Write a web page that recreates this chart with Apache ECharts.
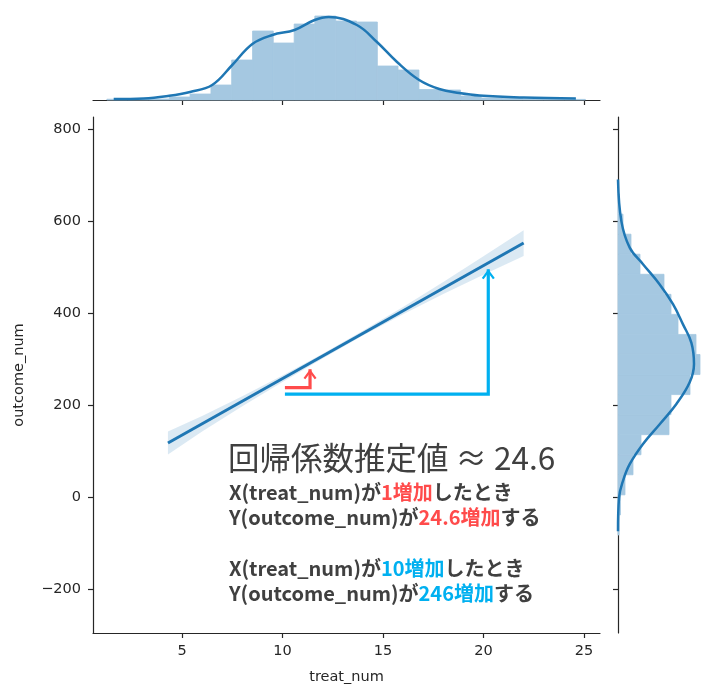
<!DOCTYPE html>
<html>
<head>
<meta charset="utf-8">
<title>jointplot treat_num / outcome_num</title>
<script src="https://cdn.jsdelivr.net/npm/echarts@6/dist/echarts.min.js"></script>
<style>
  html, body { margin: 0; padding: 0; background: #fff; }
  #chart { width: 716px; height: 696px; }
</style>
</head>
<body>
<div id="chart"></div>
<script>
// data
// top marginal histogram of treat_num (bin edges + bar heights)
const topEdges = [1.26, 2.30, 3.33, 4.37, 5.40, 6.44, 7.47, 8.51, 9.54, 10.58, 11.61, 12.65,
                  13.68, 14.72, 15.75, 16.79, 17.82, 18.86, 19.89, 20.93, 21.96, 23.00, 24.03, 25.07];
const topCounts = [0.8, 0.8, 1, 3, 6, 15, 40, 69, 57, 76, 84, 79, 78, 34, 30, 10.5, 10, 4, 2, 1.5, 1, 0.8, 0.6];
// top kde (x, height)
const topKdeX = [1.6, 3.1, 4.3, 5.4, 6.5, 7.5, 8.5, 9.5, 10.6, 11.6, 12.3, 13.7, 14.7, 15.7, 16.8, 17.8, 18.8, 19.8, 22.0, 24.6];
const topKdeY = [1, 1.5, 4, 8, 15, 35, 56, 65, 70, 80, 83, 75, 58, 38, 20, 11, 7, 4.5, 2.5, 1.5];

// right marginal histogram of outcome_num
const rightEdges = [-82.8, -39.2, 4.4, 48, 91.6, 135.2, 178.8, 222.4, 266, 309.6, 353.2, 396.8,
                    440.4, 484, 527.6, 571.2, 614.8, 658.4];
const rightCounts = [1, 2.5, 7, 15, 23, 51, 53, 72, 82, 78, 60, 53, 46, 22, 13, 5, 1.5];
// right kde (outcome value, length)
const rightKdeY = [690, 599, 542, 506, 462, 419, 375, 335, 289, 249, 202, 158, 115, 71, 35, -2, -75];
const rightKdeX = [0, 3.4, 11.7, 25, 41.7, 55, 65, 73.4, 76, 71.7, 58.4, 41.7, 25, 11.7, 5, 1, 0];

// regression line and its confidence band
const regX = [4.3, 22];
const regY = [117, 552];
const bandX = [4.3, 6, 8, 10, 12, 14, 16, 18, 20, 22];
const bandLower = [92, 142, 197, 250, 301, 351, 397, 441, 483, 524];
const bandUpper = [142, 176, 219, 264, 311, 361, 413, 467, 523, 580];

// arrows (x+1 and x+10 steps)
const redArrowX = [10.12, 11.37, 11.37];
const redArrowY = [237.6, 237.6, 277.6];
const blueArrowX = [10.12, 20.24, 20.24];
const blueArrowY = [223.3, 223.3, 495];

// axes
const xTicks = [5, 10, 15, 20, 25];
const yTicks = [-200, 0, 200, 400, 600, 800];
const X_MIN = 0.57, X_MAX = 25.8;
const Y_MIN = -296, Y_MAX = 826;

// colours
const BLUE = '#1f77b4';
const HIST_COLOR = '#a5c8e1';
const BAND_COLOR = 'rgba(31,119,180,0.16)';
const RED = '#ff4b4b';
const CYAN = '#00b0f0';
const TEXT = '#404040';
const AXIS = '#262626';
const CHEVRON = 'path://M50,0 L100,70 L86,80 L50,30 L14,80 L0,70 Z';

const FONT = 'DejaVu Sans';
const JP = '"Noto Sans CJK JP"';

function minusFmt(v) {
    return String(v).replace('-', '\u2212');
}

// histogram bar on the top grid
function topBar(params, api) {
    let p0 = api.coord([api.value(0), api.value(2)]);
    let p1 = api.coord([api.value(1), 0]);
    return {
        type: 'rect',
        shape: { x: p0[0], y: p0[1], width: p1[0] - p0[0], height: p1[1] - p0[1] },
        style: { fill: HIST_COLOR, stroke: HIST_COLOR, lineWidth: 0.8 }
    };
}

// histogram bar on the right grid (horizontal)
function rightBar(params, api) {
    let p0 = api.coord([0, api.value(1)]);
    let p1 = api.coord([api.value(2), api.value(0)]);
    return {
        type: 'rect',
        shape: { x: p0[0], y: p0[1], width: p1[0] - p0[0], height: p1[1] - p0[1] },
        style: { fill: HIST_COLOR, stroke: HIST_COLOR, lineWidth: 0.8 }
    };
}

// confidence band drawn once as polygon
function bandPolygon(params, api) {
    if (params.dataIndex !== 0) return null;
    let pts = [];
    for (let i = 0; i < bandX.length; i++) pts.push(api.coord([bandX[i], bandUpper[i]]));
    for (let i = bandX.length - 1; i >= 0; i--) pts.push(api.coord([bandX[i], bandLower[i]]));
    return { type: 'polygon', shape: { points: pts }, style: { fill: BAND_COLOR } };
}

function arrowData(xs, ys) {
    return xs.map((x, i) => ({
        value: [x, ys[i]],
        symbol: i === xs.length - 1 ? CHEVRON : 'none'
    }));
}

function mainAxisCommon() {
    return {
        axisLine: { show: true, onZero: false, lineStyle: { color: AXIS, width: 1.2 } },
        axisTick: { show: true, length: 5, lineStyle: { color: AXIS, width: 1.2 } },
        splitLine: { show: false }
    };
}

let chart = echarts.init(document.getElementById('chart'), null, { renderer: 'canvas' });

let topHistData = topCounts.map((c, i) => [topEdges[i], topEdges[i + 1], c]);
let rightHistData = rightCounts.map((c, i) => [rightEdges[i], rightEdges[i + 1], c]);

chart.setOption({
    animation: false,
    backgroundColor: '#fff',
    grid: [
        { left: 93, top: 117, width: 507, height: 516 },   // main
        { left: 93, top: 10, width: 507, height: 90 },     // top marginal
        { left: 618, top: 117, width: 90, height: 516 }    // right marginal
    ],
    xAxis: [
        Object.assign(mainAxisCommon(), {
            gridIndex: 0, type: 'value', min: X_MIN, max: X_MAX,
            axisTick: { show: true, length: 5, customValues: xTicks, lineStyle: { color: AXIS, width: 1.2 } },
            axisLabel: { customValues: xTicks, color: AXIS, fontFamily: FONT, fontSize: 14.5, margin: 11 },
            name: 'treat_num', nameLocation: 'middle', nameGap: 37,
            nameTextStyle: { color: AXIS, fontFamily: FONT, fontSize: 14.5 }
        }),
        Object.assign(mainAxisCommon(), {
            gridIndex: 1, type: 'value', min: X_MIN, max: X_MAX,
            axisTick: { show: true, length: 5, customValues: xTicks, lineStyle: { color: AXIS, width: 1.2 } },
            axisLabel: { show: false, customValues: xTicks }
        }),
        { gridIndex: 2, type: 'value', min: 0, max: 90, show: false }
    ],
    yAxis: [
        Object.assign(mainAxisCommon(), {
            gridIndex: 0, type: 'value', min: Y_MIN, max: Y_MAX,
            axisTick: { show: true, length: 5, customValues: yTicks, lineStyle: { color: AXIS, width: 1.2 } },
            axisLabel: { customValues: yTicks, color: AXIS, fontFamily: FONT, fontSize: 14.5, margin: 12, formatter: minusFmt },
            name: 'outcome_num', nameLocation: 'middle', nameGap: 66,
            nameTextStyle: { color: AXIS, fontFamily: FONT, fontSize: 14.5 }
        }),
        { gridIndex: 1, type: 'value', min: 0, max: 90, show: false },
        Object.assign(mainAxisCommon(), {
            gridIndex: 2, type: 'value', min: Y_MIN, max: Y_MAX,
            axisTick: { show: true, length: 5, customValues: yTicks, lineStyle: { color: AXIS, width: 1.2 } },
            axisLabel: { show: false, customValues: yTicks }
        })
    ],
    series: [
        // top marginal
        {
            type: 'custom', xAxisIndex: 1, yAxisIndex: 1, renderItem: topBar,
            encode: { x: [0, 1], y: 2 }, data: topHistData, silent: true
        },
        {
            type: 'line', xAxisIndex: 1, yAxisIndex: 1, smooth: 0.4, showSymbol: false,
            lineStyle: { color: BLUE, width: 2.5 },
            data: topKdeX.map((x, i) => [x, topKdeY[i]])
        },
        // right marginal
        {
            type: 'custom', xAxisIndex: 2, yAxisIndex: 2, renderItem: rightBar,
            encode: { y: [0, 1], x: 2 }, data: rightHistData, silent: true
        },
        {
            type: 'line', xAxisIndex: 2, yAxisIndex: 2, smooth: 0.4, showSymbol: false,
            lineStyle: { color: BLUE, width: 2.5 },
            data: rightKdeX.map((x, i) => [x, rightKdeY[i]])
        },
        // regression band and line
        {
            type: 'custom', xAxisIndex: 0, yAxisIndex: 0, renderItem: bandPolygon,
            encode: { x: 0, y: [1, 2] },
            data: bandX.map((x, i) => [x, bandLower[i], bandUpper[i]]), silent: true
        },
        {
            type: 'line', xAxisIndex: 0, yAxisIndex: 0, showSymbol: false,
            lineStyle: { color: BLUE, width: 3 },
            data: regX.map((x, i) => [x, regY[i]])
        },
        // arrows
        {
            type: 'line', xAxisIndex: 0, yAxisIndex: 0,
            showSymbol: true, symbolSize: [13, 10], symbolOffset: [0, 5],
            itemStyle: { color: RED }, lineStyle: { color: RED, width: 3.2, join: 'miter' },
            data: arrowData(redArrowX, redArrowY), z: 5
        },
        {
            type: 'line', xAxisIndex: 0, yAxisIndex: 0,
            showSymbol: true, symbolSize: [13, 10], symbolOffset: [0, 5],
            itemStyle: { color: CYAN }, lineStyle: { color: CYAN, width: 3.2, join: 'miter' },
            data: arrowData(blueArrowX, blueArrowY), z: 5
        }
    ],
    graphic: [
        {
            type: 'text', x: 228, y: 458,
            style: {
                text: '回帰係数推定値 ≈ 24.6', fill: TEXT, verticalAlign: 'middle',
                font: '31.5px ' + JP
            }
        },
        {
            type: 'text', x: 229, y: 492,
            style: {
                text: '{d|X(treat_num)が}{r|1増加}{d|したとき}', verticalAlign: 'middle',
                rich: {
                    d: { fill: TEXT, font: 'bold 20px ' + JP },
                    r: { fill: RED, font: 'bold 20px ' + JP }
                }
            }
        },
        {
            type: 'text', x: 229, y: 517,
            style: {
                text: '{d|Y(outcome_num)が}{r|24.6増加}{d|する}', verticalAlign: 'middle',
                rich: {
                    d: { fill: TEXT, font: 'bold 20px ' + JP },
                    r: { fill: RED, font: 'bold 20px ' + JP }
                }
            }
        },
        {
            type: 'text', x: 229, y: 568,
            style: {
                text: '{d|X(treat_num)が}{b|10増加}{d|したとき}', verticalAlign: 'middle',
                rich: {
                    d: { fill: TEXT, font: 'bold 20px ' + JP },
                    b: { fill: CYAN, font: 'bold 20px ' + JP }
                }
            }
        },
        {
            type: 'text', x: 229, y: 593,
            style: {
                text: '{d|Y(outcome_num)が}{b|246増加}{d|する}', verticalAlign: 'middle',
                rich: {
                    d: { fill: TEXT, font: 'bold 20px ' + JP },
                    b: { fill: CYAN, font: 'bold 20px ' + JP }
                }
            }
        }
    ]
});

window.onresize = function () {
    chart.resize();
};
</script>
</body>
</html>
